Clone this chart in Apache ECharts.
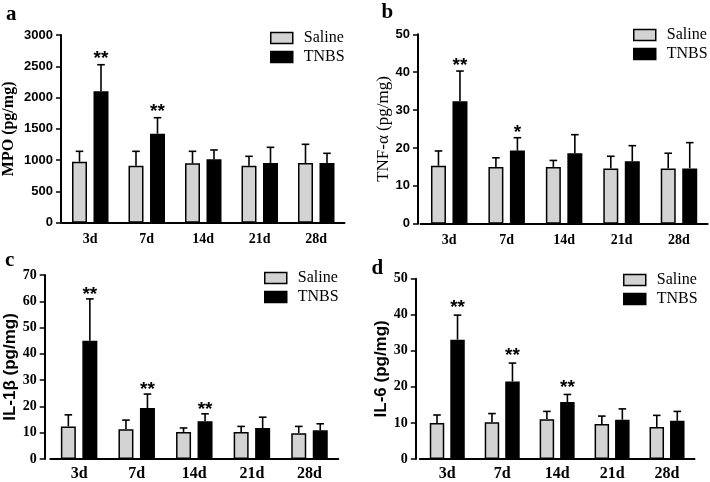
<!DOCTYPE html>
<html>
<head>
<meta charset="utf-8">
<script src="https://cdn.jsdelivr.net/npm/echarts@6/dist/echarts.min.js"></script>
<style>html,body{margin:0;padding:0;background:#fff;}#c{width:710px;height:482px;}</style>
</head>
<body>
<div id="c"></div>
<script>
// ---------- data ----------
const categories = ['3d', '7d', '14d', '21d', '28d'];
const seriesNames = ['Saline', 'TNBS'];

// a: MPO (pg/mg)
const mpoSaline = [975, 911, 949, 911, 954];
const mpoSalineErr = [166, 230, 192, 150, 299];
const mpoTnbs = [2100, 1423, 1013, 954, 954];
const mpoTnbsErr = [425, 255, 149, 251, 155];
const mpoSig = ['**', '**', '', '', ''];
const mpoTicks = [0, 500, 1000, 1500, 2000, 2500, 3000];

// b: TNF-α (pg/mg)
const tnfSaline = [15.3, 15.0, 15.0, 14.6, 14.6];
const tnfSalineErr = [3.9, 2.4, 1.7, 3.2, 4.0];
const tnfTnbs = [32.3, 19.3, 18.6, 16.5, 14.6];
const tnfTnbsErr = [8.0, 3.4, 4.9, 4.1, 6.8];
const tnfSig = ['**', '*', '', '', ''];
const tnfTicks = [0, 10, 20, 30, 40, 50];

// c: IL-1β (pg/mg)
const il1Saline = [12.4, 11.3, 10.3, 10.3, 9.8];
const il1SalineErr = [4.4, 3.5, 1.5, 2.1, 2.6];
const il1Tnbs = [45.0, 19.4, 14.4, 11.8, 10.9];
const il1TnbsErr = [15.9, 5.3, 2.8, 4.1, 2.5];
const il1Sig = ['**', '**', '**', '', ''];
const il1Ticks = [0, 10, 20, 30, 40, 50, 60, 70];

// d: IL-6 (pg/mg)
const il6Saline = [10.0, 10.2, 11.0, 9.7, 8.9];
const il6SalineErr = [2.2, 2.4, 2.2, 2.2, 3.2];
const il6Tnbs = [33.1, 21.5, 15.8, 10.9, 10.6];
const il6TnbsErr = [6.8, 5.1, 2.1, 3.0, 2.6];
const il6Sig = ['**', '**', '**', '', ''];
const il6Ticks = [0, 10, 20, 30, 40, 50];

// ---------- styling / layout ----------
const SERIF = "'Liberation Serif', 'Times New Roman', serif";
const SANS = "'Liberation Sans', Arial, sans-serif";
const GRAY = '#d3d3d3';

const panels = [
  { letter: 'a', letterPos: [6, 4], name: 'MPO (pg/mg)', nameFont: { fontFamily: SERIF, fontWeight: 'bold', fontSize: 16 }, nameGap: 44,
    tickFont: { fontFamily: SANS, fontWeight: 'bold', fontSize: 13 }, xFont: { fontFamily: SERIF, fontWeight: 'bold', fontSize: 14 }, xMargin: 10,
    grid: { left: 58.5, right: 365.5, top: 35, bottom: 259.3 }, yOffset: 1, barW: 15, gap: 6.5, starGap: 6,
    legend: { left: 270, top: 30 },
    saline: mpoSaline, salineErr: mpoSalineErr, tnbs: mpoTnbs, tnbsErr: mpoTnbsErr, sig: mpoSig, ticks: mpoTicks },
  { letter: 'b', letterPos: [381.5, 2], name: 'TNF-α (pg/mg)', nameFont: { fontFamily: SERIF, fontWeight: 'normal', fontSize: 17 }, nameGap: 26,
    tickFont: { fontFamily: SANS, fontWeight: 'bold', fontSize: 13 }, xFont: { fontFamily: SERIF, fontWeight: 'bold', fontSize: 14 }, xMargin: 10,
    grid: { left: 420.5, right: 2.3, top: 34.3, bottom: 258.3 }, yOffset: 2.5, barW: 15, gap: 6.5, starGap: 5,
    legend: { left: 633, top: 27 },
    saline: tnfSaline, salineErr: tnfSalineErr, tnbs: tnfTnbs, tnbsErr: tnfTnbsErr, sig: tnfSig, ticks: tnfTicks },
  { letter: 'c', letterPos: [5, 250], name: 'IL-1β (pg/mg)', nameFont: { fontFamily: SANS, fontWeight: 'bold', fontSize: 17 }, nameGap: 22,
    tickFont: { fontFamily: SERIF, fontWeight: 'bold', fontSize: 14 }, xFont: { fontFamily: SERIF, fontWeight: 'bold', fontSize: 16 }, xMargin: 7,
    grid: { left: 50.3, right: 371.7, top: 275, bottom: 19 }, yOffset: 5.6, barW: 15, gap: 6.5, starGap: 4,
    legend: { left: 264, top: 270 },
    saline: il1Saline, salineErr: il1SalineErr, tnbs: il1Tnbs, tnbsErr: il1TnbsErr, sig: il1Sig, ticks: il1Ticks },
  { letter: 'd', letterPos: [371.5, 258], name: 'IL-6 (pg/mg)', nameFont: { fontFamily: SANS, fontWeight: 'bold', fontSize: 17 }, nameGap: 24,
    tickFont: { fontFamily: SERIF, fontWeight: 'bold', fontSize: 14 }, xFont: { fontFamily: SERIF, fontWeight: 'bold', fontSize: 16 }, xMargin: 7,
    grid: { left: 419.8, right: 15.5, top: 278.7, bottom: 20.7 }, yOffset: 4, barW: 14.5, gap: 6, starGap: 7,
    legend: { left: 623, top: 272 },
    saline: il6Saline, salineErr: il6SalineErr, tnbs: il6Tnbs, tnbsErr: il6TnbsErr, sig: il6Sig, ticks: il6Ticks }
];

function errRenderer(sigs, offset, starGap) {
  return function (params, api) {
    const i = api.value(0), v = api.value(1), e = api.value(2);
    const p0 = api.coord([i, v]);
    const p1 = api.coord([i, v + e]);
    const x = p0[0] + offset;
    const children = [
      { type: 'line', shape: { x1: x, y1: p0[1], x2: x, y2: p1[1] }, style: { stroke: '#000', lineWidth: 1.6 } },
      { type: 'line', shape: { x1: x - 3.8, y1: p1[1], x2: x + 3.8, y2: p1[1] }, style: { stroke: '#000', lineWidth: 1.6 } }
    ];
    const s = sigs ? sigs[params.dataIndex] : '';
    if (s) {
      children.push({ type: 'text', x: x, y: p1[1] - starGap,
        style: { text: s, fill: '#000', font: 'bold 19px ' + SANS, textAlign: 'center', textVerticalAlign: 'middle' } });
    }
    return { type: 'group', children: children };
  };
}

const option = { animation: false, backgroundColor: '#fff', grid: [], xAxis: [], yAxis: [], series: [], legend: [], graphic: [] };

panels.forEach((p, k) => {
  option.grid.push(p.grid);
  option.xAxis.push({
    type: 'category', gridIndex: k, data: categories,
    axisLine: { lineStyle: { color: '#000', width: 2 } },
    axisTick: { alignWithLabel: true, length: 5, lineStyle: { color: '#000', width: 1.5 } },
    axisLabel: Object.assign({ color: '#000', margin: p.xMargin }, p.xFont)
  });
  option.yAxis.push({
    type: 'value', gridIndex: k, min: p.ticks[0], max: p.ticks[p.ticks.length - 1], interval: p.ticks[1] - p.ticks[0],
    offset: p.yOffset,
    name: p.name, nameLocation: 'middle', nameGap: p.nameGap, nameTextStyle: Object.assign({ color: '#000' }, p.nameFont),
    splitLine: { show: false },
    axisLine: { show: true, lineStyle: { color: '#000', width: 2 } },
    axisTick: { show: true, length: 5, lineStyle: { color: '#000', width: 1.5 } },
    axisLabel: Object.assign({ color: '#000', margin: 8, formatter: v => String(v) }, p.tickFont)
  });
  const off = (p.barW + p.gap) / 2;
  const gapPct = (p.gap / p.barW * 100).toFixed(1) + '%';
  option.series.push({
    name: 'Saline', type: 'bar', xAxisIndex: k, yAxisIndex: k, data: p.saline, barWidth: p.barW, barGap: gapPct,
    itemStyle: { color: GRAY, borderColor: '#000', borderWidth: 1.5 }, z: 2
  });
  option.series.push({
    name: 'TNBS', type: 'bar', xAxisIndex: k, yAxisIndex: k, data: p.tnbs, barWidth: p.barW, barGap: gapPct,
    itemStyle: { color: '#000', borderColor: '#000', borderWidth: 1.5 }, z: 2
  });
  option.series.push({
    name: 'errS' + k, type: 'custom', xAxisIndex: k, yAxisIndex: k, z: 3,
    data: p.saline.map((v, i) => [i, v, p.salineErr[i]]),
    renderItem: errRenderer(null, -off, 0), silent: true
  });
  option.series.push({
    name: 'errT' + k, type: 'custom', xAxisIndex: k, yAxisIndex: k, z: 3,
    data: p.tnbs.map((v, i) => [i, v, p.tnbsErr[i]]),
    renderItem: errRenderer(p.sig, off, p.starGap), silent: true
  });
  option.legend.push({
    data: seriesNames, orient: 'vertical', left: p.legend.left, top: p.legend.top, padding: 0,
    itemWidth: 22, itemHeight: 11, itemGap: 3, icon: 'rect',
    itemStyle: { borderColor: '#000', borderWidth: 1.5 },
    textStyle: { fontFamily: SERIF, fontSize: 16, color: '#000', lineHeight: 16, padding: [0, 0, 0, 6] },
    selectedMode: false
  });
  option.graphic.push({
    type: 'text', left: p.letterPos[0], top: p.letterPos[1],
    style: { text: p.letter, font: 'bold 21px ' + SERIF, fill: '#000' }
  });
});

const chart = echarts.init(document.getElementById('c'), null, { renderer: 'canvas' });
chart.setOption(option);
</script>
</body>
</html>
